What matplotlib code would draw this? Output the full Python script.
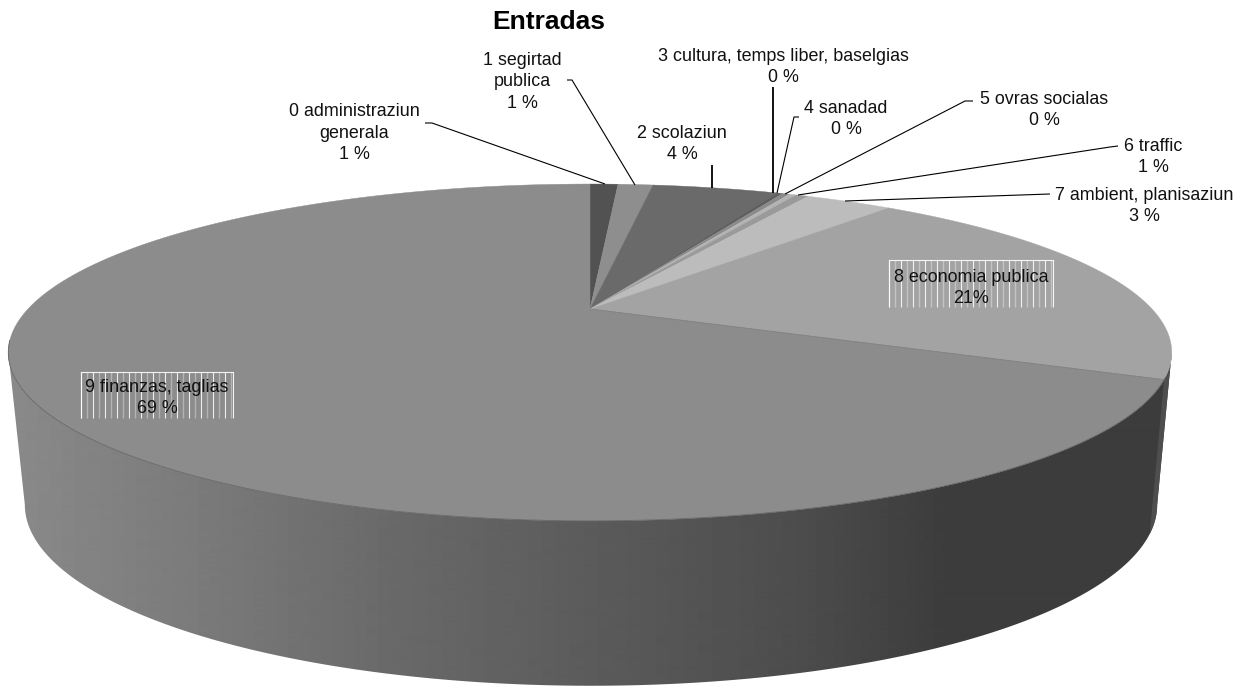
"""
Entradas: perspective 3D pie, drawn from polygons on a pixel-sized axes.
"""
import matplotlib
matplotlib.use("Agg")
import matplotlib.pyplot as plt
from matplotlib.patches import Polygon
import numpy as np

plt.rcParams["font.family"] = ["Liberation Sans", "DejaVu Sans"]

# data
labels = [
    "0 administraziun\ngenerala\n1 %",
    "1 segirtad\npublica\n1 %",
    "2 scolaziun\n4 %",
    "3 cultura, temps liber, baselgias\n0 %",
    "4 sanadad\n0 %",
    "5 ovras socialas\n0 %",
    "6 traffic\n1 %",
    "7 ambient, planisaziun\n3 %",
    "8 economia publica\n21%",
    "9 finanzas, taglias\n69 %",
]
values = [1.0, 1.25, 4.5, 0.2, 0.25, 0.25, 0.45, 3.1, 20.6, 68.4]
top_greys = ["#525252", "#8e8e8e", "#6a6a6a", "#5e5e5e", "#8a8a8a",
             "#b4b4b4", "#9a9a9a", "#bcbcbc", "#a3a3a3", "#8c8c8c"]

# where the labels sit, in pixels
label_xy = [(354, 133), (522, 82), (682, 144), (783, 67), (846, 119),
            (1044, 110), (1153, 157), (1144, 206), (971, 288), (157, 398)]
leaders = [
    [(425, 123), (432, 123), (605, 184)],
    [(567, 80), (572, 80), (635, 185)],
    [(712, 165), (712, 188)],
    [(773, 87), (773, 193)],
    [(799, 117), (794, 117), (777, 193)],
    [(973, 101), (965, 101), (785, 194)],
    [(1118, 146), (1110, 147), (798, 195)],
    [(1050, 194), (845, 201)],
]
leader_widths = [0.8, 0.8, 1.3, 1.3, 0.8, 0.8, 0.8, 0.8]

# side wall shading, grey level against pixel x
wall_x = [10, 200, 400, 600, 800, 950, 1175]
wall_grey = [0.54, 0.48, 0.41, 0.355, 0.30, 0.235, 0.235]

# perspective of the two discs
K = 0.258
TOP = dict(cx=590, cy=309, a=562, b=157.2)
BOTTOM = dict(cx=591, cy=458, a=547, b=169)
SIDE_START = np.degrees(np.arccos(-K))  # widest point of the disc


def project(theta_deg, cx, cy, a, b):
    t = np.radians(theta_deg)
    x, y = np.sin(t), -np.cos(t)
    w = 1 - K * y
    return np.column_stack([cx + a * x / w, cy + b * y / w])


def striped_box(ax, x0, y0, x1, y1):
    xs = np.arange(x0, x1, 6.0)
    ax.vlines(xs[::2], y0, y1, color="white", lw=0.8, alpha=0.85, zorder=4)
    ax.vlines(xs[1::2], y0, y1, color="white", lw=1.0, alpha=0.35, zorder=4)
    ax.plot([x0, x1], [y0, y0], color="white", lw=0.8, alpha=0.9, zorder=4)
    ax.vlines([x0, x1], y0, y1, color="white", lw=0.8, alpha=0.9, zorder=4)


fig = plt.figure(figsize=(12.53, 6.86), dpi=100)
ax = fig.add_axes([0, 0, 1, 1])

# side wall
arc = np.linspace(SIDE_START, 360 - SIDE_START, 300)
wall = np.vstack([project(arc, **TOP), project(arc[::-1], **BOTTOM)])
wall_patch = Polygon(wall, closed=True, fc="none", ec="none", zorder=1)
ax.add_patch(wall_patch)
shade = np.interp(np.arange(1253), wall_x, wall_grey)[None, :]
im = ax.imshow(shade, extent=(0, 1253, 686, 0), cmap="gray", vmin=0, vmax=1,
               aspect="auto", zorder=1, interpolation="bilinear")
im.set_clip_path(wall_patch)

# the short strip of slice 8 on the wall, right of the 8/9 edge
edges = np.cumsum([0] + values) / sum(values) * 360
arc8 = np.linspace(SIDE_START, edges[9], 20)
ax.add_patch(Polygon(np.vstack([project(arc8, **TOP), project(arc8[::-1], **BOTTOM)]),
                     closed=True, fc="#4e4e4e", ec="none", zorder=2))

# top face
for i, grey in enumerate(top_greys):
    arc_i = np.linspace(edges[i], edges[i + 1], 200)
    pts = np.vstack([[TOP["cx"], TOP["cy"]], project(arc_i, **TOP)])
    ax.add_patch(Polygon(pts, closed=True, fc=grey, ec=grey, lw=0.3, zorder=3))

# slightly darker rim along the front
rim = project(np.linspace(SIDE_START + 8, 360 - SIDE_START + 4, 300), **TOP)
ax.plot(rim[:, 0], rim[:, 1], color="#666666", lw=0.6, zorder=3)
edge_pts = project(np.array([edges[9]]), **TOP)[0]
ax.plot([TOP["cx"], edge_pts[0]], [TOP["cy"], edge_pts[1]], color="#808080", lw=0.6, zorder=3)

# label boxes
striped_box(ax, 889, 260, 1053, 307)
striped_box(ax, 81, 372, 233, 418)

for pts, lw in zip(leaders, leader_widths):
    arr = np.array(pts)
    ax.plot(arr[:, 0], arr[:, 1], color="black", lw=lw, zorder=5, solid_capstyle="butt")

for text, (x, y) in zip(labels, label_xy):
    ax.text(x, y, text, ha="center", va="center", fontsize=12.9, color="#111111",
            linespacing=1.32, zorder=6)

ax.text(549, 22, "Entradas", ha="center", va="center", fontsize=19, fontweight="bold")

ax.set_xlim(0, 1253)
ax.set_ylim(686, 0)
ax.axis("off")
fig.savefig("out.png", dpi=100)
